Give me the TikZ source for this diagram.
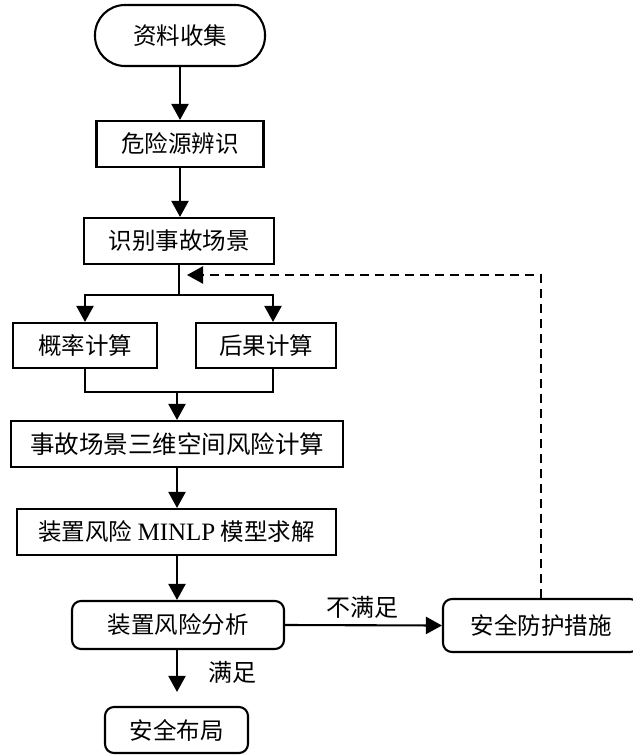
\documentclass[tikz,border=0pt]{standalone}
\usepackage{fontspec}
\setmainfont{Liberation Serif}
\newfontfamily\cjk{Noto Sans CJK SC}
\usetikzlibrary{arrows.meta}
\begin{document}
\begin{tikzpicture}[x=1pt,y=1pt,
  base/.style={draw, line width=2.1pt, inner sep=0pt, font=\cjk\fontsize{23.5}{25}\selectfont},
  sqbox/.style={base},
  rbox/.style={base, rounded corners=9pt},
  conn/.style={line width=2.1pt, -{Triangle[length=16pt,width=17pt]}},
  plain/.style={line width=2.1pt},
  dasharrow/.style={line width=2.3pt, dash pattern=on 9pt off 6pt, -{Triangle[length=16pt,width=17pt]}},
  lab/.style={font=\cjk\fontsize{24}{26}\selectfont, inner sep=0pt}
]
\useasboundingbox (0,0) rectangle (632,-755);
% nodes
\node[base, rounded corners=30pt, minimum width=170pt, minimum height=61pt] (n1) at (180,-35.5) {资料收集};
\node[sqbox, minimum width=167pt, minimum height=46pt] (n2) at (180,-144) {危险源辨识};
\node[sqbox, minimum width=190pt, minimum height=46pt] (n3) at (179,-241) {识别事故场景};
\node[sqbox, minimum width=144pt, minimum height=45pt] (n4) at (85,-345.5) {概率计算};
\node[sqbox, minimum width=140pt, minimum height=45pt] (n5) at (266,-345.5) {后果计算};
\node[sqbox, minimum width=332pt, minimum height=46pt, font=\cjk\fontsize{24.5}{26}\selectfont] (n6) at (177,-444) {事故场景三维空间风险计算};
\node[sqbox, minimum width=319pt, minimum height=46pt] (n7) at (176.5,-532) {装置风险 {\fontspec{Liberation Serif}\fontsize{25}{26}\selectfont MINLP} 模型求解};
\node[rbox, minimum width=212pt, minimum height=48pt] (n8) at (178,-625) {装置风险分析};
\node[rbox, minimum width=196pt, minimum height=53pt] (n9) at (541,-625.5) {安全防护措施};
\node[rbox, minimum width=143pt, minimum height=46pt] (n10) at (176.5,-730) {安全布局};
% labels
\node[lab] (l1) at (362,-607) {不满足};
\node[lab] (l2) at (232,-672) {满足};
% helper coordinates
\coordinate (b1) at (179,-295);
\coordinate (bl) at (85,-295);
\coordinate (br) at (273,-295);
\coordinate (m1) at (85,-392);
\coordinate (m2) at (273,-392);
\coordinate (mc) at (177,-392);
\coordinate (dc) at (541,-275);
\coordinate (dt) at (187,-275);
% connectors
\draw[conn] (n1.south) -- (n2.north);
\draw[conn] (n2.south) -- (n2.south |- n3.north);
\draw[plain] (n3.south) -- (b1);
\draw[plain, line cap=rect] (bl) -- (br);
\draw[conn] (bl) -- (n4.north);
\draw[conn] (br) -- (br |- n5.north);
\draw[plain] (n4.south) -- (m1) -- (m2) -- (m2 |- n5.south);
\draw[conn] (mc) -- (n6.north);
\draw[conn] (n6.south) -- (n6.south |- n7.north);
\draw[conn] (n7.south -| n6.south) -- (n6.south |- n8.north);
\draw[conn] (n8.east) -- (n9.west);
\draw[conn, shorten >=14pt] (n8.south -| n6.south) -- (n6.south |- n10.north);
\draw[dasharrow] (n9.north) -- (dc) -- (dt);
\end{tikzpicture}
\end{document}
